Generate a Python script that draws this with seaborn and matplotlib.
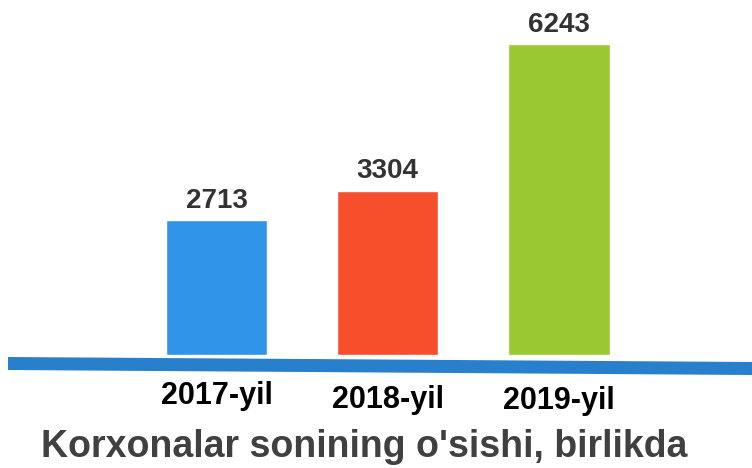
import matplotlib
matplotlib.use("Agg")
import matplotlib.pyplot as plt
import seaborn as sns
import pandas as pd
from matplotlib.patches import Polygon
from matplotlib.transforms import blended_transform_factory

# data
years = ["2017-yil", "2018-yil", "2019-yil"]
counts = [2713, 3304, 6243]
colors = ["#3094E9", "#F74F2C", "#9AC830"]
title = "Korxonalar sonining o'sishi, birlikda"

df = pd.DataFrame({"year": years, "count": counts})

sns.set_style("white")
plt.rcParams['font.family'] = ['Liberation Sans', 'DejaVu Sans']

W, H = 752, 468
fig = plt.figure(figsize=(W / 100, H / 100), dpi=100)
base_px = 355  # baseline of bars, pixels from top
ax = fig.add_axes([0, (H - base_px) / H, 1, base_px / H])

sns.barplot(data=df, x="year", y="count", hue="year", palette=colors,
            width=0.59, legend=False, saturation=1, ax=ax)

ax.set_xlim(-1.264, 3.127)
ax.set_ylim(0, base_px / 0.04976)
ax.axis("off")

# value labels
for i, v in enumerate(counts):
    ax.annotate(f"{v}", (i, v), xytext=(0, 4.5), textcoords="offset points",
                ha="center", va="bottom", fontsize=20, fontweight="bold",
                color="#333333")

# blue swoosh baseline
sw = Polygon([(8 / W, 1 - 357 / H), (W / W, 1 - 362 / H),
              (W / W, 1 - 375 / H), (8 / W, 1 - 370 / H)],
             closed=True, transform=fig.transFigure, facecolor="#2880CC",
             edgecolor="none")
fig.patches.append(sw)

# category labels, slightly staggered
tr = blended_transform_factory(ax.transData, fig.transFigure)
label_y = [396, 400, 401]
for i, (lab, y) in enumerate(zip(years, label_y)):
    ax.text(i, 1 - y / H, lab, transform=tr, ha="center", va="center",
            fontsize=22, fontweight="bold", color="black", clip_on=False)

fig.text(364 / W, 1 - 447 / H, title, ha="center", va="center",
         fontsize=27, fontweight="bold", color="#404040")

fig.savefig("out.png", dpi=100)
